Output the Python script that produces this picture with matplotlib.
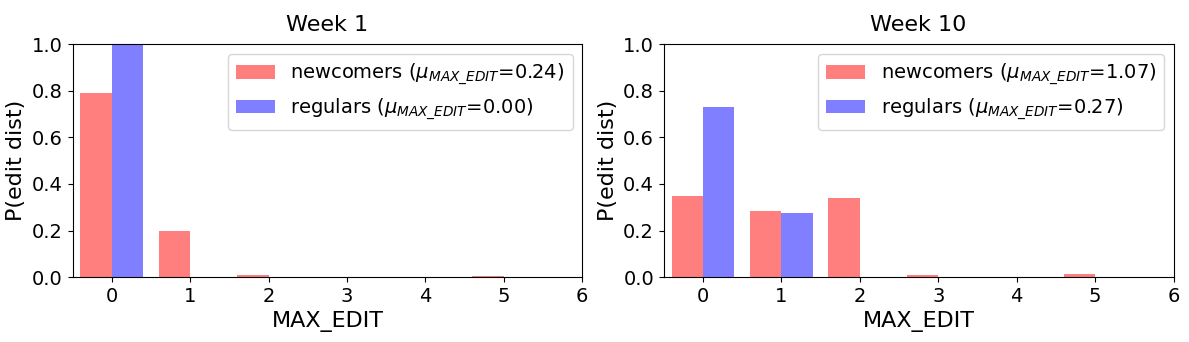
import numpy as np
import matplotlib
matplotlib.use('Agg')
import matplotlib.pyplot as plt

# edit distance values
x = [0, 1, 2, 3, 4, 5]

# week 1
new_w1 = [0.79, 0.20, 0.008, 0.0, 0.0, 0.005]
reg_w1 = [1.0, 0.0, 0.0, 0.0, 0.0, 0.0]
# week 10
new_w10 = [0.35, 0.285, 0.34, 0.008, 0.0, 0.015]
reg_w10 = [0.73, 0.275, 0.0, 0.0, 0.0, 0.0]

titles = ['Week 1', 'Week 10']
mu_new = ['0.24', '1.07']
mu_reg = ['0.00', '0.27']

fig, axes = plt.subplots(1, 2, figsize=(11.89, 3.42), dpi=100)
fig.subplots_adjust(left=0.061, right=0.987, top=0.87, bottom=0.19, wspace=0.16)

data = [(new_w1, reg_w1), (new_w10, reg_w10)]
for i, ax in enumerate(axes):
    nw, rg = data[i]
    ax.bar(x, nw, width=-0.4, align='edge', color='red', alpha=0.5,
           label=r'newcomers ($\mu_{MAX\_EDIT}$=' + mu_new[i] + ')')
    ax.bar(x, rg, width=0.4, align='edge', color='blue', alpha=0.5,
           label=r'regulars ($\mu_{MAX\_EDIT}$=' + mu_reg[i] + ')')
    ax.set_xlim(-0.5, 6)
    ax.set_ylim(0, 1.0)
    ax.set_xticks(range(7))
    ax.tick_params(labelsize=14)
    ax.set_xlabel('MAX_EDIT', fontsize=16)
    ax.set_ylabel('P(edit dist)', fontsize=16)
    ax.set_title(titles[i], fontsize=16, pad=10)
    ax.legend(fontsize=14, loc='upper right')

plt.savefig('out.png')
